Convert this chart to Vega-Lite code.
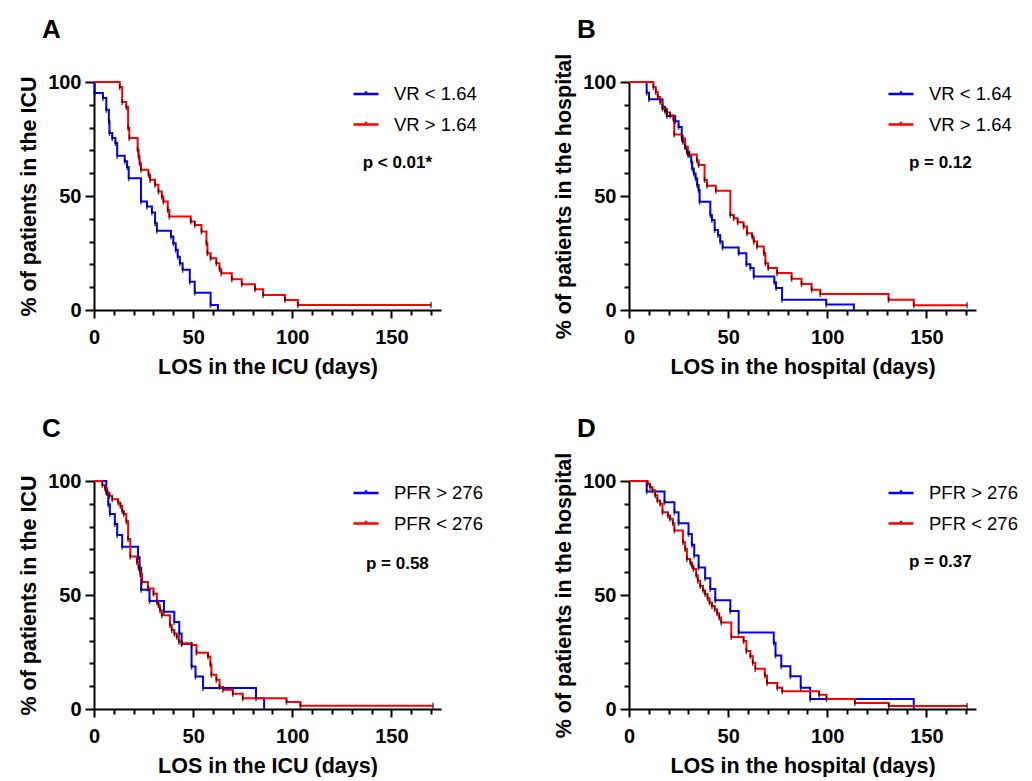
{
  "$schema": "https://vega.github.io/schema/vega-lite/v6.json",
  "background": "white",
  "padding": {"left": 18, "top": 17, "right": 0, "bottom": 0},
  "config": {
    "view": {"stroke": null},
    "font": "Liberation Sans",
    "axis": {
      "domainColor": "black", "domainWidth": 2, "tickColor": "black", "tickWidth": 2,
      "grid": false, "labelFont": "Liberation Sans", "labelFontWeight": "bold", "labelFontSize": 20,
      "labelColor": "black", "titleFont": "Liberation Sans", "titleFontWeight": "bold",
      "titleFontSize": 21.5, "titleColor": "black", "labelFlush": false, "labelOverlap": false
    },
    "axisX": {"labelPadding": 9, "titlePadding": 9},
    "axisY": {"labelPadding": 4, "titlePadding": 7},
    "legend": {
      "orient": "none", "legendX": 258, "legendY": -2, "padding": 0, "rowPadding": 6.5,
      "labelFont": "Liberation Sans", "labelFontSize": 18.5, "labelColor": "black", "labelOffset": 14,
      "symbolType": "M-1,0H1M0,-0.22V0.08", "symbolSize": 625, "symbolStrokeWidth": 2.5
    },
    "title": {"anchor": "start", "frame": "group", "fontSize": 26, "fontWeight": "bold", "font": "Liberation Sans", "color": "black", "dx": -52, "offset": 29}
  },
  "datasets": {
    "A": [
      {"g": "VR < 1.64", "t": 0, "s": 100}, {"g": "VR < 1.64", "t": 0.3, "s": 95.2}, {"g": "VR < 1.64", "t": 4.5, "s": 93}, {"g": "VR < 1.64", "t": 6.2, "s": 87.8}, {"g": "VR < 1.64", "t": 7.5, "s": 82.7}, {"g": "VR < 1.64", "t": 7.8, "s": 77.6}, {"g": "VR < 1.64", "t": 9.2, "s": 75.4}, {"g": "VR < 1.64", "t": 10.8, "s": 73.2}, {"g": "VR < 1.64", "t": 11.7, "s": 67.6}, {"g": "VR < 1.64", "t": 15.5, "s": 65.2}, {"g": "VR < 1.64", "t": 16.7, "s": 62.7}, {"g": "VR < 1.64", "t": 17.5, "s": 57.8}, {"g": "VR < 1.64", "t": 23.7, "s": 47.6}, {"g": "VR < 1.64", "t": 26.7, "s": 45.4}, {"g": "VR < 1.64", "t": 29.2, "s": 42.8}, {"g": "VR < 1.64", "t": 30.8, "s": 38.1}, {"g": "VR < 1.64", "t": 31.7, "s": 34.8}, {"g": "VR < 1.64", "t": 38.8, "s": 32.2}, {"g": "VR < 1.64", "t": 40, "s": 29.3}, {"g": "VR < 1.64", "t": 41.2, "s": 26.4}, {"g": "VR < 1.64", "t": 42.2, "s": 23.4}, {"g": "VR < 1.64", "t": 43.3, "s": 20.5}, {"g": "VR < 1.64", "t": 44.7, "s": 17.6}, {"g": "VR < 1.64", "t": 48.3, "s": 12.4}, {"g": "VR < 1.64", "t": 50.8, "s": 7.6}, {"g": "VR < 1.64", "t": 58.8, "s": 2.2}, {"g": "VR < 1.64", "t": 62.5, "s": 0},
      {"g": "VR > 1.64", "t": 0, "s": 100}, {"g": "VR > 1.64", "t": 13, "s": 97.8}, {"g": "VR > 1.64", "t": 14.2, "s": 91.2}, {"g": "VR > 1.64", "t": 16.3, "s": 89}, {"g": "VR > 1.64", "t": 17.2, "s": 79.8}, {"g": "VR > 1.64", "t": 17.8, "s": 75.4}, {"g": "VR > 1.64", "t": 22, "s": 70.3}, {"g": "VR > 1.64", "t": 22.5, "s": 67.3}, {"g": "VR > 1.64", "t": 23, "s": 64.4}, {"g": "VR > 1.64", "t": 23.7, "s": 61.5}, {"g": "VR > 1.64", "t": 27.5, "s": 59.3}, {"g": "VR > 1.64", "t": 28.3, "s": 57.1}, {"g": "VR > 1.64", "t": 30.8, "s": 54.9}, {"g": "VR > 1.64", "t": 32.5, "s": 52}, {"g": "VR > 1.64", "t": 34.2, "s": 49.8}, {"g": "VR > 1.64", "t": 35, "s": 47.6}, {"g": "VR > 1.64", "t": 37.2, "s": 43.9}, {"g": "VR > 1.64", "t": 38, "s": 41}, {"g": "VR > 1.64", "t": 48.8, "s": 38.8}, {"g": "VR > 1.64", "t": 50.8, "s": 37.3}, {"g": "VR > 1.64", "t": 54.2, "s": 34.4}, {"g": "VR > 1.64", "t": 56.7, "s": 29.3}, {"g": "VR > 1.64", "t": 57.2, "s": 24.9}, {"g": "VR > 1.64", "t": 58.8, "s": 22.7}, {"g": "VR > 1.64", "t": 61.7, "s": 20.5}, {"g": "VR > 1.64", "t": 63.3, "s": 17.9}, {"g": "VR > 1.64", "t": 64.2, "s": 16.1}, {"g": "VR > 1.64", "t": 69.5, "s": 13.5}, {"g": "VR > 1.64", "t": 74.5, "s": 11.3}, {"g": "VR > 1.64", "t": 81.2, "s": 9.1}, {"g": "VR > 1.64", "t": 85.3, "s": 6.6}, {"g": "VR > 1.64", "t": 96.3, "s": 4.4}, {"g": "VR > 1.64", "t": 102.8, "s": 2.2}, {"g": "VR > 1.64", "t": 170, "s": 2.2}
    ],
    "B": [
      {"g": "VR < 1.64", "t": 0, "s": 100}, {"g": "VR < 1.64", "t": 8.9, "s": 95.3}, {"g": "VR < 1.64", "t": 10.1, "s": 92.4}, {"g": "VR < 1.64", "t": 16.9, "s": 89.1}, {"g": "VR < 1.64", "t": 18.2, "s": 87.2}, {"g": "VR < 1.64", "t": 19.1, "s": 85.1}, {"g": "VR < 1.64", "t": 23.3, "s": 82.8}, {"g": "VR < 1.64", "t": 25, "s": 80.3}, {"g": "VR < 1.64", "t": 26.6, "s": 76.4}, {"g": "VR < 1.64", "t": 27.1, "s": 73.8}, {"g": "VR < 1.64", "t": 28.3, "s": 71.6}, {"g": "VR < 1.64", "t": 29.2, "s": 69.4}, {"g": "VR < 1.64", "t": 30.4, "s": 67.9}, {"g": "VR < 1.64", "t": 31.4, "s": 65}, {"g": "VR < 1.64", "t": 31.9, "s": 62.1}, {"g": "VR < 1.64", "t": 32.7, "s": 59.9}, {"g": "VR < 1.64", "t": 33.6, "s": 57.7}, {"g": "VR < 1.64", "t": 34.4, "s": 54.8}, {"g": "VR < 1.64", "t": 35.1, "s": 52.6}, {"g": "VR < 1.64", "t": 35.6, "s": 47.5}, {"g": "VR < 1.64", "t": 41, "s": 41.7}, {"g": "VR < 1.64", "t": 41.8, "s": 39.5}, {"g": "VR < 1.64", "t": 43.2, "s": 35.1}, {"g": "VR < 1.64", "t": 44.9, "s": 32.9}, {"g": "VR < 1.64", "t": 46, "s": 30}, {"g": "VR < 1.64", "t": 47.2, "s": 27.4}, {"g": "VR < 1.64", "t": 55.3, "s": 24.9}, {"g": "VR < 1.64", "t": 59.2, "s": 20.1}, {"g": "VR < 1.64", "t": 61.2, "s": 18.4}, {"g": "VR < 1.64", "t": 62.9, "s": 14.7}, {"g": "VR < 1.64", "t": 73.3, "s": 12.2}, {"g": "VR < 1.64", "t": 74.2, "s": 9.6}, {"g": "VR < 1.64", "t": 77.2, "s": 4.5}, {"g": "VR < 1.64", "t": 99.5, "s": 2.4}, {"g": "VR < 1.64", "t": 113.4, "s": 0},
      {"g": "VR > 1.64", "t": 0, "s": 100}, {"g": "VR > 1.64", "t": 12.3, "s": 97.8}, {"g": "VR > 1.64", "t": 13.5, "s": 95.6}, {"g": "VR > 1.64", "t": 14.5, "s": 93.4}, {"g": "VR > 1.64", "t": 15.7, "s": 91.3}, {"g": "VR > 1.64", "t": 16.9, "s": 88.3}, {"g": "VR > 1.64", "t": 19.1, "s": 86.6}, {"g": "VR > 1.64", "t": 20.7, "s": 85.4}, {"g": "VR > 1.64", "t": 22.4, "s": 83.7}, {"g": "VR > 1.64", "t": 22.8, "s": 77}, {"g": "VR > 1.64", "t": 26.6, "s": 75.2}, {"g": "VR > 1.64", "t": 28.3, "s": 71.6}, {"g": "VR > 1.64", "t": 29.7, "s": 68.2}, {"g": "VR > 1.64", "t": 34.2, "s": 65.7}, {"g": "VR > 1.64", "t": 35.1, "s": 63.6}, {"g": "VR > 1.64", "t": 38.1, "s": 57}, {"g": "VR > 1.64", "t": 39.3, "s": 54.5}, {"g": "VR > 1.64", "t": 43.8, "s": 52.3}, {"g": "VR > 1.64", "t": 51.1, "s": 41.7}, {"g": "VR > 1.64", "t": 52.8, "s": 40.2}, {"g": "VR > 1.64", "t": 54.8, "s": 38.5}, {"g": "VR > 1.64", "t": 57.8, "s": 36.6}, {"g": "VR > 1.64", "t": 59.5, "s": 33.7}, {"g": "VR > 1.64", "t": 62.1, "s": 32.2}, {"g": "VR > 1.64", "t": 62.9, "s": 30}, {"g": "VR > 1.64", "t": 64.6, "s": 27.8}, {"g": "VR > 1.64", "t": 68, "s": 24.9}, {"g": "VR > 1.64", "t": 68.8, "s": 20.5}, {"g": "VR > 1.64", "t": 70.2, "s": 18.4}, {"g": "VR > 1.64", "t": 74.7, "s": 16.2}, {"g": "VR > 1.64", "t": 82, "s": 13.7}, {"g": "VR > 1.64", "t": 87, "s": 11.4}, {"g": "VR > 1.64", "t": 92.1, "s": 8.9}, {"g": "VR > 1.64", "t": 96.5, "s": 7}, {"g": "VR > 1.64", "t": 130.9, "s": 4.5}, {"g": "VR > 1.64", "t": 143.6, "s": 2.1}, {"g": "VR > 1.64", "t": 170.5, "s": 2.1}
    ],
    "C": [
      {"g": "PFR > 276", "t": 0, "s": 100}, {"g": "PFR > 276", "t": 6.2, "s": 94.9}, {"g": "PFR > 276", "t": 7.2, "s": 89.8}, {"g": "PFR > 276", "t": 8, "s": 85.5}, {"g": "PFR > 276", "t": 10.5, "s": 81.1}, {"g": "PFR > 276", "t": 11.7, "s": 76.3}, {"g": "PFR > 276", "t": 14.2, "s": 71.2}, {"g": "PFR > 276", "t": 22.2, "s": 66.6}, {"g": "PFR > 276", "t": 23, "s": 61.9}, {"g": "PFR > 276", "t": 23.8, "s": 52.3}, {"g": "PFR > 276", "t": 28, "s": 47.4}, {"g": "PFR > 276", "t": 35.3, "s": 42.6}, {"g": "PFR > 276", "t": 40.5, "s": 38.2}, {"g": "PFR > 276", "t": 43, "s": 33.1}, {"g": "PFR > 276", "t": 44.2, "s": 28.5}, {"g": "PFR > 276", "t": 49.2, "s": 18.6}, {"g": "PFR > 276", "t": 51.2, "s": 14.2}, {"g": "PFR > 276", "t": 55, "s": 9.2}, {"g": "PFR > 276", "t": 81.7, "s": 4.7}, {"g": "PFR > 276", "t": 85.8, "s": 0},
      {"g": "PFR < 276", "t": 0, "s": 100}, {"g": "PFR < 276", "t": 4.2, "s": 98.3}, {"g": "PFR < 276", "t": 5.5, "s": 96.8}, {"g": "PFR < 276", "t": 6.7, "s": 94.9}, {"g": "PFR < 276", "t": 7.8, "s": 93.5}, {"g": "PFR < 276", "t": 9.2, "s": 92}, {"g": "PFR < 276", "t": 12.2, "s": 90.6}, {"g": "PFR < 276", "t": 13.3, "s": 89.1}, {"g": "PFR < 276", "t": 14.2, "s": 86.9}, {"g": "PFR < 276", "t": 15, "s": 85.5}, {"g": "PFR < 276", "t": 16.3, "s": 82.3}, {"g": "PFR < 276", "t": 17.2, "s": 74.6}, {"g": "PFR < 276", "t": 18.3, "s": 66.9}, {"g": "PFR < 276", "t": 21.7, "s": 64.4}, {"g": "PFR < 276", "t": 22.5, "s": 61.9}, {"g": "PFR < 276", "t": 23.3, "s": 59.3}, {"g": "PFR < 276", "t": 24.2, "s": 55.7}, {"g": "PFR < 276", "t": 27.2, "s": 52.8}, {"g": "PFR < 276", "t": 30, "s": 50.6}, {"g": "PFR < 276", "t": 31.7, "s": 46.9}, {"g": "PFR < 276", "t": 32.5, "s": 45.5}, {"g": "PFR < 276", "t": 33.3, "s": 43.3}, {"g": "PFR < 276", "t": 34.2, "s": 41.1}, {"g": "PFR < 276", "t": 38.3, "s": 36.8}, {"g": "PFR < 276", "t": 39.2, "s": 34.6}, {"g": "PFR < 276", "t": 40.5, "s": 33.1}, {"g": "PFR < 276", "t": 41.7, "s": 31.7}, {"g": "PFR < 276", "t": 42.8, "s": 29.5}, {"g": "PFR < 276", "t": 44.2, "s": 28.8}, {"g": "PFR < 276", "t": 49.2, "s": 28.1}, {"g": "PFR < 276", "t": 51.7, "s": 24.7}, {"g": "PFR < 276", "t": 57.5, "s": 23}, {"g": "PFR < 276", "t": 58.7, "s": 19.6}, {"g": "PFR < 276", "t": 59.2, "s": 15}, {"g": "PFR < 276", "t": 61.7, "s": 12.8}, {"g": "PFR < 276", "t": 63.3, "s": 9.6}, {"g": "PFR < 276", "t": 65, "s": 8.4}, {"g": "PFR < 276", "t": 70, "s": 6.7}, {"g": "PFR < 276", "t": 75, "s": 4.7}, {"g": "PFR < 276", "t": 97.1, "s": 3.1}, {"g": "PFR < 276", "t": 104.1, "s": 1.4}, {"g": "PFR < 276", "t": 171, "s": 1.4}
    ],
    "D": [
      {"g": "PFR > 276", "t": 0, "s": 100}, {"g": "PFR > 276", "t": 8.9, "s": 95.4}, {"g": "PFR > 276", "t": 17.9, "s": 90.7}, {"g": "PFR > 276", "t": 22.9, "s": 86.3}, {"g": "PFR > 276", "t": 25, "s": 81.5}, {"g": "PFR > 276", "t": 30, "s": 76.8}, {"g": "PFR > 276", "t": 31.7, "s": 72}, {"g": "PFR > 276", "t": 32.9, "s": 67.3}, {"g": "PFR > 276", "t": 35.1, "s": 62.1}, {"g": "PFR > 276", "t": 38.4, "s": 57.3}, {"g": "PFR > 276", "t": 41, "s": 52.6}, {"g": "PFR > 276", "t": 43.5, "s": 47.7}, {"g": "PFR > 276", "t": 51.1, "s": 43}, {"g": "PFR > 276", "t": 55.3, "s": 33.5}, {"g": "PFR > 276", "t": 73, "s": 29.1}, {"g": "PFR > 276", "t": 73.9, "s": 23.5}, {"g": "PFR > 276", "t": 76.8, "s": 18.8}, {"g": "PFR > 276", "t": 81.4, "s": 14.4}, {"g": "PFR > 276", "t": 86.6, "s": 9.3}, {"g": "PFR > 276", "t": 91.4, "s": 4.4}, {"g": "PFR > 276", "t": 143.6, "s": 0},
      {"g": "PFR < 276", "t": 0, "s": 100}, {"g": "PFR < 276", "t": 9.4, "s": 98.8}, {"g": "PFR < 276", "t": 10.6, "s": 97.4}, {"g": "PFR < 276", "t": 11.8, "s": 95.9}, {"g": "PFR < 276", "t": 13.2, "s": 93.7}, {"g": "PFR < 276", "t": 14.3, "s": 91.5}, {"g": "PFR < 276", "t": 15.7, "s": 90}, {"g": "PFR < 276", "t": 16.9, "s": 86.3}, {"g": "PFR < 276", "t": 19.6, "s": 84.9}, {"g": "PFR < 276", "t": 20.7, "s": 83.4}, {"g": "PFR < 276", "t": 22.1, "s": 81.5}, {"g": "PFR < 276", "t": 22.9, "s": 78.3}, {"g": "PFR < 276", "t": 27.2, "s": 73.1}, {"g": "PFR < 276", "t": 28.3, "s": 70.2}, {"g": "PFR < 276", "t": 29.2, "s": 65.8}, {"g": "PFR < 276", "t": 30.9, "s": 64.3}, {"g": "PFR < 276", "t": 31.7, "s": 62.8}, {"g": "PFR < 276", "t": 32.5, "s": 61.4}, {"g": "PFR < 276", "t": 33.9, "s": 58.7}, {"g": "PFR < 276", "t": 34.7, "s": 56.2}, {"g": "PFR < 276", "t": 35.9, "s": 54}, {"g": "PFR < 276", "t": 37.3, "s": 52.1}, {"g": "PFR < 276", "t": 38.4, "s": 50.4}, {"g": "PFR < 276", "t": 39.6, "s": 48.6}, {"g": "PFR < 276", "t": 40.6, "s": 46.7}, {"g": "PFR < 276", "t": 41.8, "s": 45.2}, {"g": "PFR < 276", "t": 43.2, "s": 43.8}, {"g": "PFR < 276", "t": 44.4, "s": 42}, {"g": "PFR < 276", "t": 45.5, "s": 40.1}, {"g": "PFR < 276", "t": 46.5, "s": 37.9}, {"g": "PFR < 276", "t": 51.6, "s": 31.6}, {"g": "PFR < 276", "t": 57.8, "s": 29.8}, {"g": "PFR < 276", "t": 59.2, "s": 25.4}, {"g": "PFR < 276", "t": 61.2, "s": 23.2}, {"g": "PFR < 276", "t": 62.4, "s": 20.3}, {"g": "PFR < 276", "t": 63.7, "s": 17.6}, {"g": "PFR < 276", "t": 68.5, "s": 14.7}, {"g": "PFR < 276", "t": 69.6, "s": 11.4}, {"g": "PFR < 276", "t": 74.8, "s": 9.3}, {"g": "PFR < 276", "t": 77.3, "s": 7.8}, {"g": "PFR < 276", "t": 95.9, "s": 6.3}, {"g": "PFR < 276", "t": 99.6, "s": 4.4}, {"g": "PFR < 276", "t": 113.9, "s": 2.6}, {"g": "PFR < 276", "t": 131, "s": 1.3}, {"g": "PFR < 276", "t": 170.5, "s": 1.3}
    ]
  },
  "columns": 2,
  "spacing": {"row": 171, "column": 188},
  "bounds": "flush",
  "resolve": {"scale": {"color": "independent", "x": "independent", "y": "independent"}, "legend": {"color": "independent"}},
  "concat": [
    {
      "width": 347, "height": 228, "title": {"text": "A"},
      "resolve": {"axis": {"x": "independent", "y": "independent"}},
      "layer": [
        {"data": {"name": "A"},
         "mark": {"type": "line", "interpolate": "step-after", "strokeWidth": 2},
         "encoding": {
           "x": {"field": "t", "type": "quantitative", "scale": {"domain": [0, 175], "nice": false},
                 "axis": {"orient": "bottom", "title": "LOS in the ICU (days)", "values": [0, 50, 100, 150], "tickSize": 8}},
           "y": {"field": "s", "type": "quantitative", "scale": {"domain": [0, 100], "nice": false},
                 "axis": {"orient": "left", "title": "% of patients in the ICU", "values": [0, 50, 100], "tickSize": 9}},
           "color": {"field": "g", "type": "nominal", "scale": {"domain": ["VR < 1.64", "VR > 1.64"], "range": ["#0000ff", "#ff0000"]}, "legend": {"title": null}}
         }},
        {"data": {"name": "A"},
         "transform": [{"filter": "datum.t > 0 && datum.s > 0"}],
         "mark": {"type": "tick", "orient": "vertical", "size": 6, "thickness": 1.5, "color": "black"},
         "encoding": {
           "x": {"field": "t", "type": "quantitative", "axis": {"orient": "bottom", "title": null, "labels": false, "domain": false, "tickSize": 5, "values": [10, 20, 30, 40, 60, 70, 80, 90, 110, 120, 130, 140, 160, 170]}},
           "y": {"field": "s", "type": "quantitative", "axis": {"orient": "left", "title": null, "labels": false, "domain": false, "tickSize": 5, "values": [10, 20, 30, 40, 60, 70, 80, 90]}}
         }},
        {"data": {"values": [{"p": "p < 0.01*"}]},
         "mark": {"type": "text", "font": "Liberation Sans", "fontWeight": "bold", "fontSize": 17, "fill": "black"},
         "encoding": {"x": {"datum": 153, "axis": null}, "y": {"datum": 64.6, "axis": null}, "text": {"field": "p"}}}
      ]
    },
    {
      "width": 347, "height": 228, "title": {"text": "B", "dy": 19},
      "resolve": {"axis": {"x": "independent", "y": "independent"}},
      "layer": [
        {"data": {"name": "B"},
         "mark": {"type": "line", "interpolate": "step-after", "strokeWidth": 2},
         "encoding": {
           "x": {"field": "t", "type": "quantitative", "scale": {"domain": [0, 175], "nice": false},
                 "axis": {"orient": "bottom", "title": "LOS in the hospital (days)", "values": [0, 50, 100, 150], "tickSize": 8}},
           "y": {"field": "s", "type": "quantitative", "scale": {"domain": [0, 100], "nice": false},
                 "axis": {"orient": "left", "title": "% of patients in the hospital", "values": [0, 50, 100], "tickSize": 9}},
           "color": {"field": "g", "type": "nominal", "scale": {"domain": ["VR < 1.64", "VR > 1.64"], "range": ["#0000ff", "#ff0000"]}, "legend": {"title": null}}
         }},
        {"data": {"name": "B"},
         "transform": [{"filter": "datum.t > 0 && datum.s > 0"}],
         "mark": {"type": "tick", "orient": "vertical", "size": 6, "thickness": 1.5, "color": "black"},
         "encoding": {
           "x": {"field": "t", "type": "quantitative", "axis": {"orient": "bottom", "title": null, "labels": false, "domain": false, "tickSize": 5, "values": [10, 20, 30, 40, 60, 70, 80, 90, 110, 120, 130, 140, 160, 170]}},
           "y": {"field": "s", "type": "quantitative", "axis": {"orient": "left", "title": null, "labels": false, "domain": false, "tickSize": 5, "values": [10, 20, 30, 40, 60, 70, 80, 90]}}
         }},
        {"data": {"values": [{"p": "p = 0.12"}]},
         "mark": {"type": "text", "font": "Liberation Sans", "fontWeight": "bold", "fontSize": 17, "fill": "black"},
         "encoding": {"x": {"datum": 157, "axis": null}, "y": {"datum": 64.3, "axis": null}, "text": {"field": "p"}}}
      ]
    },
    {
      "width": 347, "height": 228, "title": {"text": "C"},
      "resolve": {"axis": {"x": "independent", "y": "independent"}},
      "layer": [
        {"data": {"name": "C"},
         "mark": {"type": "line", "interpolate": "step-after", "strokeWidth": 2},
         "encoding": {
           "x": {"field": "t", "type": "quantitative", "scale": {"domain": [0, 175], "nice": false},
                 "axis": {"orient": "bottom", "title": "LOS in the ICU (days)", "values": [0, 50, 100, 150], "tickSize": 8}},
           "y": {"field": "s", "type": "quantitative", "scale": {"domain": [0, 100], "nice": false},
                 "axis": {"orient": "left", "title": "% of patients in the ICU", "values": [0, 50, 100], "tickSize": 9}},
           "color": {"field": "g", "type": "nominal", "scale": {"domain": ["PFR > 276", "PFR < 276"], "range": ["#0000ff", "#ff0000"]}, "legend": {"title": null}}
         }},
        {"data": {"name": "C"},
         "transform": [{"filter": "datum.t > 0 && datum.s > 0"}],
         "mark": {"type": "tick", "orient": "vertical", "size": 6, "thickness": 1.5, "color": "black"},
         "encoding": {
           "x": {"field": "t", "type": "quantitative", "axis": {"orient": "bottom", "title": null, "labels": false, "domain": false, "tickSize": 5, "values": [10, 20, 30, 40, 60, 70, 80, 90, 110, 120, 130, 140, 160, 170]}},
           "y": {"field": "s", "type": "quantitative", "axis": {"orient": "left", "title": null, "labels": false, "domain": false, "tickSize": 5, "values": [10, 20, 30, 40, 60, 70, 80, 90]}}
         }},
        {"data": {"values": [{"p": "p = 0.58"}]},
         "mark": {"type": "text", "font": "Liberation Sans", "fontWeight": "bold", "fontSize": 17, "fill": "black"},
         "encoding": {"x": {"datum": 153, "axis": null}, "y": {"datum": 63.7, "axis": null}, "text": {"field": "p"}}}
      ]
    },
    {
      "width": 347, "height": 228, "title": {"text": "D", "dy": 19},
      "resolve": {"axis": {"x": "independent", "y": "independent"}},
      "layer": [
        {"data": {"name": "D"},
         "mark": {"type": "line", "interpolate": "step-after", "strokeWidth": 2},
         "encoding": {
           "x": {"field": "t", "type": "quantitative", "scale": {"domain": [0, 175], "nice": false},
                 "axis": {"orient": "bottom", "title": "LOS in the hospital (days)", "values": [0, 50, 100, 150], "tickSize": 8}},
           "y": {"field": "s", "type": "quantitative", "scale": {"domain": [0, 100], "nice": false},
                 "axis": {"orient": "left", "title": "% of patients in the hospital", "values": [0, 50, 100], "tickSize": 9}},
           "color": {"field": "g", "type": "nominal", "scale": {"domain": ["PFR > 276", "PFR < 276"], "range": ["#0000ff", "#ff0000"]}, "legend": {"title": null}}
         }},
        {"data": {"name": "D"},
         "transform": [{"filter": "datum.t > 0 && datum.s > 0"}],
         "mark": {"type": "tick", "orient": "vertical", "size": 6, "thickness": 1.5, "color": "black"},
         "encoding": {
           "x": {"field": "t", "type": "quantitative", "axis": {"orient": "bottom", "title": null, "labels": false, "domain": false, "tickSize": 5, "values": [10, 20, 30, 40, 60, 70, 80, 90, 110, 120, 130, 140, 160, 170]}},
           "y": {"field": "s", "type": "quantitative", "axis": {"orient": "left", "title": null, "labels": false, "domain": false, "tickSize": 5, "values": [10, 20, 30, 40, 60, 70, 80, 90]}}
         }},
        {"data": {"values": [{"p": "p = 0.37"}]},
         "mark": {"type": "text", "font": "Liberation Sans", "fontWeight": "bold", "fontSize": 17, "fill": "black"},
         "encoding": {"x": {"datum": 157, "axis": null}, "y": {"datum": 64.3, "axis": null}, "text": {"field": "p"}}}
      ]
    }
  ]
}
